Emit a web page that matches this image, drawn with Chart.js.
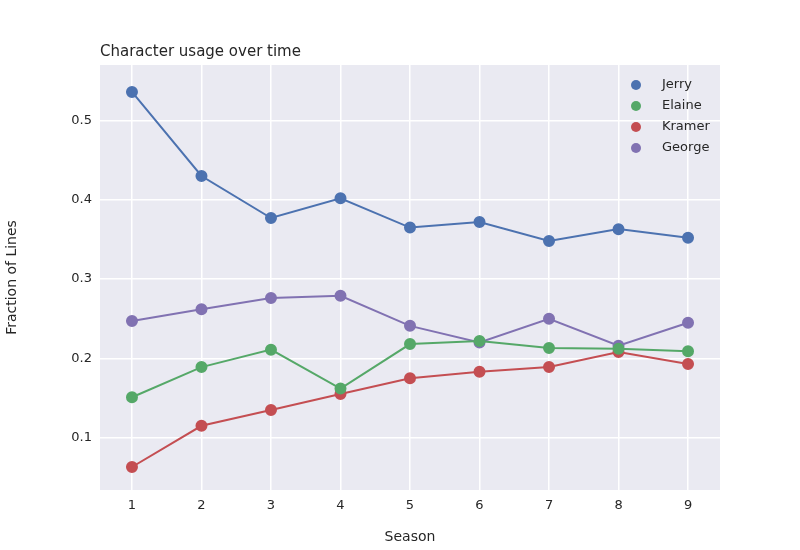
<!DOCTYPE html>
<html><head><meta charset="utf-8">
<script src="https://cdn.jsdelivr.net/npm/chart.js@4"></script>
<style>html,body{margin:0;background:#fff}#wrap{width:800px;height:550px}</style>
</head><body><div id="wrap"><canvas id="c" width="800" height="550"></canvas></div>
<script>
const seasons = [1, 2, 3, 4, 5, 6, 7, 8, 9];
const jerry  = [0.536, 0.430, 0.377, 0.402, 0.365, 0.372, 0.348, 0.363, 0.352];
const elaine = [0.151, 0.189, 0.211, 0.162, 0.218, 0.222, 0.213, 0.212, 0.209];
const kramer = [0.063, 0.115, 0.135, 0.155, 0.175, 0.183, 0.189, 0.208, 0.193];
const george = [0.247, 0.262, 0.276, 0.279, 0.241, 0.220, 0.250, 0.216, 0.245];
const names = ['Jerry', 'Elaine', 'Kramer', 'George'];
const colors = ['#4C72B0', '#55A868', '#C44E52', '#8172B2'];
const series = [jerry, elaine, kramer, george];

const font = 'DejaVu Sans, sans-serif';
Chart.defaults.font.family = font;
Chart.defaults.color = '#262626';

const decor = {
  id: 'decor',
  beforeDraw(chart) {
    const a = chart.chartArea, g = chart.ctx;
    g.save(); g.fillStyle = '#EAEAF2';
    g.fillRect(a.left, a.top, a.right - a.left, a.bottom - a.top); g.restore();
  },
  afterDraw(chart) {
    const a = chart.chartArea, g = chart.ctx;
    g.save();
    g.fillStyle = '#262626'; g.font = '15px ' + font; g.textBaseline = 'bottom';
    g.fillText('Character usage over time', a.left, a.top - 5);
    g.font = '13px ' + font; g.textBaseline = 'middle';
    names.forEach((n, i) => {
      const y = a.top + 20 + i * 21;
      g.fillStyle = colors[i];
      g.beginPath(); g.arc(a.right - 84, y, 5, 0, Math.PI * 2); g.fill();
      g.fillStyle = '#262626'; g.fillText(n, a.right - 58, y);
    });
    g.restore();
  }
};

new Chart(document.getElementById('c'), {
  type: 'line',
  data: {
    datasets: series.map((s, i) => ({
      label: names[i],
      data: s.map((v, j) => ({x: seasons[j], y: v})),
      borderColor: colors[i], backgroundColor: colors[i],
      borderWidth: 2, pointRadius: 5, pointHoverRadius: 5, tension: 0
    }))
  },
  options: {
    responsive: false, animation: false, devicePixelRatio: 1,
    layout: {padding: {top: 65, right: 80, left: 0, bottom: 0}},
    plugins: {legend: {display: false}, tooltip: {enabled: false}},
    scales: {
      x: {
        type: 'linear', min: 0.54, max: 9.46,
        afterFit: s => { s.height = 60; },
        afterBuildTicks: s => { s.ticks = seasons.map(v => ({value: v})); },
        grid: {color: '#fff', lineWidth: 1.5, drawTicks: false},
        border: {display: false},
        ticks: {padding: 8, font: {size: 13}},
        title: {display: true, text: 'Season', font: {size: 14}, padding: {top: 2}}
      },
      y: {
        min: 0.034, max: 0.570,
        afterFit: s => { s.width = 100; },
        afterBuildTicks: s => { s.ticks = [0.1, 0.2, 0.3, 0.4, 0.5].map(v => ({value: v})); },
        grid: {color: '#fff', lineWidth: 1.5, drawTicks: false},
        border: {display: false},
        ticks: {padding: 8, font: {size: 13}, callback: v => v.toFixed(1)},
        title: {display: true, text: 'Fraction of Lines', font: {size: 14}}
      }
    }
  },
  plugins: [decor]
});
</script></body></html>
